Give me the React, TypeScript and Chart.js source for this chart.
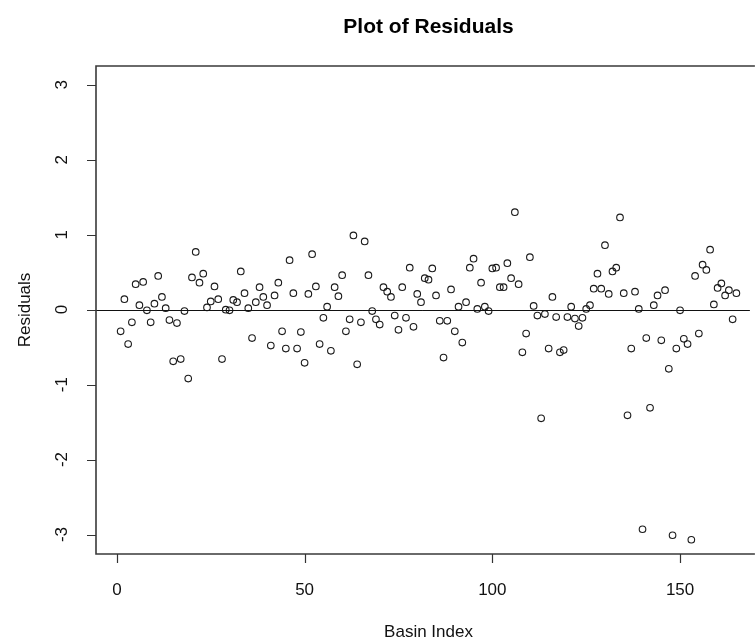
import React, { useEffect, useRef } from "react";
import { Chart, registerables } from "chart.js";

Chart.register(...registerables);

// Residual for each basin, in basin order (basin 1 first).
const residuals: number[] = [
  -0.29, 0.14, -0.46, -0.17, 0.34, 0.06, 0.37, -0.01, -0.17, 0.08,
  0.45, 0.17, 0.02, -0.14, -0.69, -0.18, -0.66, -0.02, -0.92, 0.43,
  0.77, 0.36, 0.48, 0.03, 0.11, 0.31, 0.14, -0.66, 0.0, -0.01,
  0.13, 0.1, 0.51, 0.22, 0.02, -0.38, 0.1, 0.3, 0.17, 0.06,
  -0.48, 0.19, 0.36, -0.29, -0.52, 0.66, 0.22, -0.52, -0.3, -0.71,
  0.21, 0.74, 0.31, -0.46, -0.11, 0.04, -0.55, 0.3, 0.18, 0.46,
  -0.29, -0.13, 0.99, -0.73, -0.17, 0.91, 0.46, -0.02, -0.13, -0.2,
  0.3, 0.24, 0.17, -0.08, -0.27, 0.3, -0.11, 0.56, -0.23, 0.21,
  0.1, 0.42, 0.4, 0.55, 0.19, -0.15, -0.64, -0.15, 0.27, -0.29,
  0.04, -0.44, 0.1, 0.56, 0.68, 0.01, 0.36, 0.04, -0.02, 0.55,
  0.56, 0.3, 0.3, 0.62, 0.42, 1.3, 0.34, -0.57, -0.32, 0.7,
  0.05, -0.08, -1.45, -0.06, -0.52, 0.17, -0.1, -0.57, -0.54, -0.1,
  0.04, -0.12, -0.22, -0.11, 0.01, 0.06, 0.28, 0.48, 0.28, 0.86,
  0.21, 0.51, 0.56, 1.23, 0.22, -1.41, -0.52, 0.24, 0.01, -2.93,
  -0.38, -1.31, 0.06, 0.19, -0.41, 0.26, -0.79, -3.01, -0.52, -0.01,
  -0.39, -0.46, -3.07, 0.45, -0.32, 0.6, 0.53, 0.8, 0.07, 0.29,
  0.35, 0.19, 0.26, -0.13, 0.22,
];

const xTicks: number[] = [0, 50, 100, 150];
const yTicks: number[] = [-3, -2, -1, 0, 1, 2, 3];

const titleText = "Plot of Residuals";
const xTitle = "Basin Index";
const yTitle = "Residuals";

const W = 755;
const H = 639;
const FONT = "'Liberation Sans', Arial, Helvetica, sans-serif";

// Base-graphics style frame: box, outward ticks, rotated y labels, titles, zero line.
const framePlugin = {
  id: "frame",
  afterDatasetsDraw(chart: any) {
    const { ctx, chartArea, scales } = chart;
    const y0 = scales.y.getPixelForValue(0);
    ctx.save();
    ctx.strokeStyle = "#111";
    ctx.lineWidth = 1;
    ctx.beginPath();
    ctx.moveTo(chartArea.left, Math.round(y0) + 0.5);
    ctx.lineTo(chartArea.right, Math.round(y0) + 0.5);
    ctx.stroke();
    ctx.restore();
  },
  afterDraw(chart: any) {
    const { ctx, chartArea, scales } = chart;
    const { left, top, right, bottom } = chartArea;
    const xs = scales.x;
    const ys = scales.y;
    ctx.save();

    // plot box (right side runs off the canvas)
    ctx.strokeStyle = "#3a3a3a";
    ctx.lineWidth = 1.6;
    ctx.beginPath();
    ctx.moveTo(right + 5, top);
    ctx.lineTo(left, top);
    ctx.lineTo(left, bottom);
    ctx.lineTo(right + 5, bottom);
    ctx.stroke();

    // ticks
    const tickLen = 9;
    ctx.lineWidth = 1.2;
    ctx.strokeStyle = "#333";
    ctx.beginPath();
    for (const v of xTicks) {
      const px = Math.round(xs.getPixelForValue(v)) + 0.5;
      ctx.moveTo(px, bottom);
      ctx.lineTo(px, bottom + tickLen);
    }
    for (const v of yTicks) {
      const py = Math.round(ys.getPixelForValue(v)) + 0.5;
      ctx.moveTo(left, py);
      ctx.lineTo(left - tickLen, py);
    }
    ctx.stroke();

    ctx.fillStyle = "#111";
    ctx.font = `17px ${FONT}`;

    // x tick labels
    ctx.textAlign = "center";
    ctx.textBaseline = "middle";
    for (const v of xTicks) {
      ctx.fillText(String(v), xs.getPixelForValue(v), bottom + 36);
    }

    // y tick labels, rotated
    for (const v of yTicks) {
      ctx.save();
      ctx.translate(left - 34, ys.getPixelForValue(v));
      ctx.rotate(-Math.PI / 2);
      ctx.textAlign = "center";
      ctx.textBaseline = "middle";
      ctx.fillText(String(v), 0, 0);
      ctx.restore();
    }

    const plotCenterX = xs.getPixelForValue((xs.min + 171.56) / 2);

    // axis titles
    ctx.textAlign = "center";
    ctx.textBaseline = "alphabetic";
    ctx.fillText(xTitle, plotCenterX, 637);

    ctx.save();
    ctx.translate(25, (top + bottom) / 2);
    ctx.rotate(-Math.PI / 2);
    ctx.textAlign = "center";
    ctx.textBaseline = "middle";
    ctx.fillText(yTitle, 0, 0);
    ctx.restore();

    // main title
    ctx.fillStyle = "#000";
    ctx.font = `bold 21px ${FONT}`;
    ctx.textAlign = "center";
    ctx.textBaseline = "alphabetic";
    ctx.fillText(titleText, plotCenterX, 33);

    ctx.restore();
  },
};

export default function App() {
  const canvasRef = useRef<HTMLCanvasElement | null>(null);

  useEffect(() => {
    const canvas = canvasRef.current;
    if (!canvas) return;
    const points = residuals.map((r, i) => ({ x: i + 1, y: r }));
    const chart = new Chart(canvas, {
      type: "scatter",
      data: {
        datasets: [
          {
            data: points,
            pointStyle: "circle",
            pointRadius: 3.3,
            pointBorderWidth: 1.1,
            pointBorderColor: "#1a1a1a",
            pointBackgroundColor: "rgba(0,0,0,0)",
          },
        ],
      },
      options: {
        responsive: false,
        animation: false,
        devicePixelRatio: 1,
        layout: { padding: { left: 96, top: 66, right: 0, bottom: 85 } },
        plugins: {
          legend: { display: false },
          title: { display: false },
          tooltip: { enabled: false },
        },
        scales: {
          x: { type: "linear", min: -5.56, max: 168.6, display: false },
          y: { type: "linear", min: -3.26, max: 3.25, display: false },
        },
      },
      plugins: [framePlugin],
    });
    return () => chart.destroy();
  }, []);

  return (
    <div
      style={{
        position: "absolute",
        left: 0,
        top: 0,
        width: W,
        height: H,
        overflow: "hidden",
        background: "#fff",
      }}
    >
      <canvas ref={canvasRef} width={W} height={H} style={{ display: "block" }} />
    </div>
  );
}
